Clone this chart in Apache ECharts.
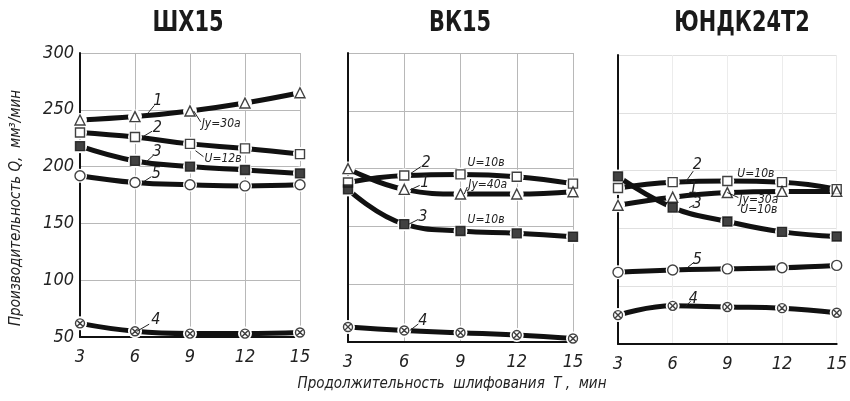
<!DOCTYPE html>
<html><head><meta charset="utf-8">
<script src="https://cdn.jsdelivr.net/npm/echarts@6/dist/echarts.min.js"></script>
<style>html,body{margin:0;padding:0;background:#fff}#c{width:850px;height:401px}</style>
</head><body><div id="c"></div>
<script>
// ---- data ----
const xTicks = [3, 6, 9, 12, 15];
const yTicks = [50, 100, 150, 200, 250, 300];
const panelTitles = ['ШХ15', 'ВК15', 'ЮНДК24Т2'];
const yTitle = 'Производительность Q,  мм³/мин';
const xTitle = 'Продолжительность  шлифования  T ,  мин';

// ШХ15
const p1_s1 = [241, 244, 249, 256, 265];
const p1_s2 = [230, 226, 220, 216, 211];
const p1_s3 = [218, 205, 200, 197, 194];
const p1_s5 = [192, 186, 184, 183, 184];
const p1_s4 = [62, 55, 53, 53, 54];
// ВК15
const p2_s1 = [200, 182, 178, 178, 180];
const p2_s2 = [188, 194, 195, 193, 187];
const p2_s3 = [182, 152, 146, 144, 141];
const p2_s4 = [63, 60, 58, 56, 53];
// ЮНДК24Т2
const p3_s1 = [170, 177, 181, 182, 182];
const p3_s2 = [185, 190, 191, 190, 184];
const p3_s3 = [195, 168, 156, 147, 143];
const p3_s5 = [112, 114, 115, 116, 118];
const p3_s4 = [75, 83, 82, 81, 77];

// annotation anchors (data coords) and texts
const notes = [
  [0, 6.7, 247, '1', 'num'], [0, 6.4, 226, '2', 'num'], [0, 6.6, 204, '3', 'num'],
  [0, 6.4, 186, '5', 'num'], [0, 6.1, 55, '4', 'num'],
  [0, 9.2, 249, 'Jу=30а', 'txt'], [0, 9.3, 214, 'U=12в', 'txt'],
  [1, 6.36, 196, '2', 'num'], [1, 6.3, 181.5, '1', 'num'], [1, 6.25, 152, '3', 'num'], [1, 6.3, 60, '4', 'num'],
  [1, 9, 195.3, 'U=10в', 'plain'], [1, 9.2, 178, 'Jу=40а', 'txt'], [1, 9, 146.3, 'U=10в', 'plain'],
  [2, 6.7, 190, '2', 'num'], [2, 6.7, 177, '1', 'num'], [2, 6.9, 168, '3', 'num'],
  [2, 6.8, 116, '5', 'num'], [2, 6.7, 82.5, '4', 'num'],
  [2, 9, 191, 'U=10в', 'plain'], [2, 9, 181, 'Jу=30а', 'txt'], [2, 9, 156, 'U=10в', 'plain']
];
// label offsets in px (style, kept apart from data)
const noteOffsets = [
  [10, -12], [15, -9], [11, -10], [14, -9], [19, -11],
  [8, 13], [9, 8],
  [15, -10], [15, -7], [14, -7], [13, -10],
  [7, -11], [4, -9], [7, -11],
  [12, -17], [8, -8], [8, -4], [10, -8], [8, -8],
  [10, -7], [12, 7], [13, -12]
];

const crossPath = 'path://M10,0A10,10,0,1,1,10,20A10,10,0,1,1,10,0ZM3,3L17,17M17,3L3,17';
const markers = {
  tri: {symbol: 'triangle', size: 10, fill: '#fff'},
  sq: {symbol: 'rect', size: 9, fill: '#fff'},
  sqf: {symbol: 'rect', size: 9, fill: '#111'},
  circ: {symbol: 'circle', size: 10, fill: '#fff'},
  cross: {symbol: crossPath, size: 9, fill: '#fff'}
};

const panels = [
  [[p1_s1, 'tri'], [p1_s2, 'sq'], [p1_s3, 'sqf'], [p1_s5, 'circ'], [p1_s4, 'cross']],
  [[p2_s2, 'sq'], [p2_s1, 'tri'], [p2_s3, 'sqf'], [p2_s4, 'cross']],
  [[p3_s2, 'sq'], [p3_s1, 'tri'], [p3_s3, 'sqf'], [p3_s5, 'circ'], [p3_s4, 'cross']]
];

const grids = [
  {left: 80, top: 53, width: 220, height: 284},
  {left: 348, top: 53, width: 225, height: 289},
  {left: 618, top: 55, width: 227, height: 289}
];
const font = '"Liberation Sans Narrow", "DejaVu Sans Condensed", "Liberation Sans", sans-serif';

const xAxes = grids.map((g, i) => ({
  type: 'value', gridIndex: i, min: xTicks[0], max: xTicks[xTicks.length - 1], interval: 3,
  axisLine: {show: true, onZero: false, lineStyle: {color: '#111', width: 2}},
  axisTick: {show: false},
  axisLabel: {fontFamily: font, fontStyle: 'italic', fontSize: 18, color: '#222', margin: 11},
  splitLine: {show: true, lineStyle: {color: i === 2 ? '#ececec' : '#b8b8b8', width: 1}}
}));
const yAxes = grids.map((g, i) => ({
  type: 'value', gridIndex: i, min: yTicks[0], max: yTicks[yTicks.length - 1], interval: 50,
  axisLine: {show: true, lineStyle: {color: '#111', width: 2}},
  axisTick: {show: false},
  axisLabel: {show: i === 0, fontFamily: font, fontStyle: 'italic', fontSize: 18, color: '#222', margin: 6},
  splitLine: {show: true, lineStyle: {color: i === 2 ? '#e0e0e0' : '#b8b8b8', width: 1}}
}));

const series = [];
panels.forEach((curves, pi) => {
  curves.forEach(([vals, mk]) => {
    const pts = xTicks.map((x, k) => [x, vals[k]]);
    series.push({
      type: 'line', xAxisIndex: pi, yAxisIndex: pi, data: pts, smooth: 0.45,
      symbol: 'circle', symbolSize: 14, showSymbol: true,
      itemStyle: {color: '#fff', borderWidth: 0},
      lineStyle: {color: '#111', width: 5}, emphasis: {disabled: true}, silent: true, z: 2
    });
    const m = markers[mk];
    series.push({
      type: 'scatter', xAxisIndex: pi, yAxisIndex: pi, data: pts, symbol: m.symbol, symbolSize: m.size,
      itemStyle: {color: m.fill, borderColor: '#111', borderWidth: 1.4},
      emphasis: {disabled: true}, silent: true, z: 3
    });
  });
});

const chart = echarts.init(document.getElementById('c'));
chart.setOption({
  animation: false, backgroundColor: '#fff',
  grid: grids, xAxis: xAxes, yAxis: yAxes, series: series
});

const gfx = [];
// panel titles
const titlePos = [188, 460, 742];
panelTitles.forEach((t, i) => {
  gfx.push({type: 'text', x: titlePos[i], y: 23, scaleX: 0.8, z: 11, silent: true,
    style: {text: t, fill: '#1a1a1a', fontFamily: font, fontWeight: 'bold', fontSize: 29,
      align: 'center', verticalAlign: 'middle'}});
});
gfx.push({type: 'text', x: 16, y: 208, rotation: Math.PI / 2, z: 11, silent: true,
  style: {text: yTitle, fill: '#222', fontFamily: font, fontStyle: 'italic', fontSize: 15,
    align: 'center', verticalAlign: 'middle'}});
gfx.push({type: 'text', x: 452, y: 384, z: 11, silent: true,
  style: {text: xTitle, fill: '#222', fontFamily: font, fontStyle: 'italic', fontSize: 15,
    align: 'center', verticalAlign: 'middle'}});

// annotations positioned via the chart's own scales
notes.forEach((n, idx) => {
  const [pi, x, y, text, kind] = n;
  const [dx, dy] = noteOffsets[idx];
  const p = chart.convertToPixel({xAxisIndex: pi, yAxisIndex: pi}, [x, y]);
  const lx = p[0] + dx, ly = p[1] + dy;
  if (kind !== 'plain') {
    const ex = kind === 'num' ? p[0] + dx * 0.65 : lx - 1;
    const ey = kind === 'num' ? p[1] + dy * 0.65 : ly - (dy > 0 ? 2 : -2);
    gfx.push({type: 'line', shape: {x1: p[0], y1: p[1], x2: ex, y2: ey},
      style: {stroke: '#222', lineWidth: 1}, z: 10, silent: true});
  }
  gfx.push({type: 'text', x: lx, y: ly, z: 11, silent: true,
    style: {text: text, fill: '#222', fontFamily: font, fontStyle: 'italic',
      fontSize: kind === 'num' ? 16 : 12,
      align: kind === 'num' ? 'center' : 'left', verticalAlign: 'middle'}});
});
chart.setOption({graphic: gfx});
</script></body></html>
